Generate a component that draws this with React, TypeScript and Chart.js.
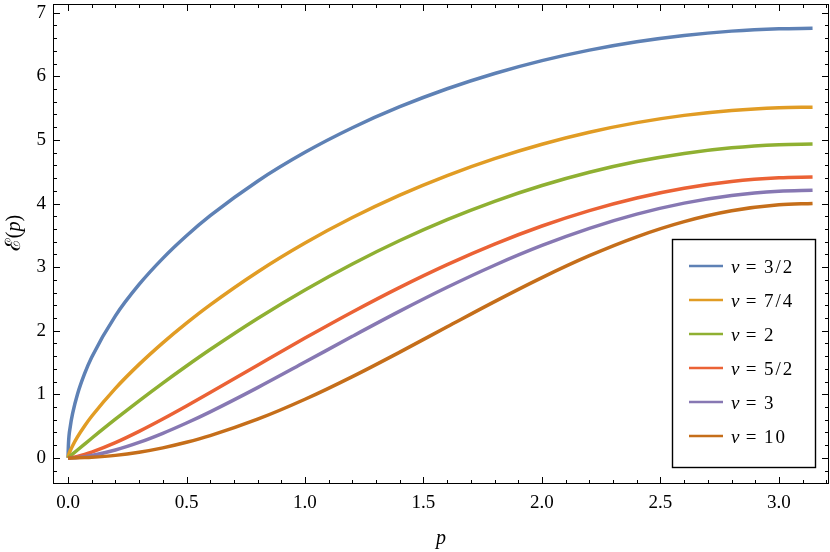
import React, { useEffect, useRef } from "react";
import { Chart, registerables } from "chart.js";

Chart.register(...registerables);

// momentum p
const P = [0, 0.002, 0.01, 0.02, 0.04, 0.07, 0.1, 0.2, 0.3, 0.4, 0.5, 0.6, 0.8, 1.0, 1.2, 1.4, 1.6, 1.8, 2.0, 2.2, 2.4, 2.6, 2.8, 3.0, 3.1416];

// E(p) for each nu
const E_NU_3_2 = [0, 0.2242, 0.5013, 0.7089, 1.0023, 1.3254, 1.5833, 2.2337, 2.7272, 3.1374, 3.4929, 3.8084, 4.3507, 4.8047, 5.1909, 5.5216, 5.8044, 6.0447, 6.2464, 6.4121, 6.5438, 6.643, 6.7105, 6.7474, 6.7551];
const E_NU_7_4 = [0, 0.035, 0.117, 0.1966, 0.3304, 0.5019, 0.6547, 1.0937, 1.471, 1.8097, 2.1198, 2.4069, 2.9245, 3.379, 3.7796, 4.132, 4.4399, 4.7061, 4.9326, 5.1207, 5.2715, 5.3857, 5.4639, 5.5068, 5.5155];
const E_NU_2 = [0, 0.0063, 0.0314, 0.0626, 0.1249, 0.2175, 0.3092, 0.6083, 0.8975, 1.1766, 1.4458, 1.705, 2.1933, 2.6416, 3.0499, 3.4182, 3.7465, 4.0349, 4.2832, 4.4915, 4.6598, 4.7881, 4.8765, 4.9248, 4.9348];
const E_NU_5_2 = [0, 0.0003, 0.0032, 0.0089, 0.0244, 0.0547, 0.0911, 0.2405, 0.4178, 0.6119, 0.8167, 1.0279, 1.4577, 1.884, 2.2949, 2.6823, 3.0397, 3.3624, 3.6465, 3.8891, 4.0878, 4.2408, 4.347, 4.4052, 4.4174];
const E_NU_3 = [0, 0.0, 0.0006, 0.0022, 0.0076, 0.0204, 0.038, 0.1244, 0.2434, 0.3868, 0.5487, 0.7248, 1.1057, 1.507, 1.9119, 2.3074, 2.6827, 3.0293, 3.3401, 3.6093, 3.8324, 4.0057, 4.1266, 4.1933, 4.207];
const E_NU_10 = [0, 0.0, 0.0001, 0.0004, 0.0016, 0.0049, 0.01, 0.04, 0.0897, 0.1585, 0.2457, 0.3506, 0.6086, 0.9222, 1.2787, 1.6639, 2.0623, 2.4581, 2.8355, 3.1796, 3.4766, 3.7148, 3.8849, 3.9801, 4.0];

const SERIES = [E_NU_3_2, E_NU_7_4, E_NU_2, E_NU_5_2, E_NU_3, E_NU_10];
const NU_LABELS = ["3/2", "7/4", "2", "5/2", "3", "10"];
const COLORS = ["#5E81B5", "#E19C24", "#8FB032", "#EB6235", "#8778B3", "#C56E1A"];

// axis ticks
const X_MAJOR = [0, 0.5, 1.0, 1.5, 2.0, 2.5, 3.0];
const X_MINOR = [0.1, 0.2, 0.3, 0.4, 0.6, 0.7, 0.8, 0.9, 1.1, 1.2, 1.3, 1.4, 1.6, 1.7, 1.8, 1.9, 2.1, 2.2, 2.3, 2.4, 2.6, 2.7, 2.8, 2.9, 3.1, 3.2];
const Y_MAJOR = [0, 1, 2, 3, 4, 5, 6, 7];
const Y_MINOR = [-0.2, 0.2, 0.4, 0.6, 0.8, 1.2, 1.4, 1.6, 1.8, 2.2, 2.4, 2.6, 2.8, 3.2, 3.4, 3.6, 3.8, 4.2, 4.4, 4.6, 4.8, 5.2, 5.4, 5.6, 5.8, 6.2, 6.4, 6.6, 6.8];

const X_MIN = -0.0633;
const X_MAX = 3.211;
const Y_MIN = -0.41;
const Y_MAX = 7.137;

const FONT = "'Liberation Serif', 'Times New Roman', 'DejaVu Serif', serif";

const framePlugin = {
  id: "mmaFrame",
  afterDatasetsDraw(chart: any) {
    const { ctx, chartArea: a, scales } = chart;
    const xs = scales.x;
    const ys = scales.y;
    ctx.save();
    ctx.strokeStyle = "#000";
    ctx.lineWidth = 1;
    // frame
    ctx.strokeRect(a.left + 0.5, a.top + 0.5, a.right - a.left - 1, a.bottom - a.top - 1);
    const major = 7;
    const minor = 4;
    ctx.beginPath();
    const xt = (v: number, len: number) => {
      const px = Math.round(xs.getPixelForValue(v)) + 0.5;
      ctx.moveTo(px, a.bottom);
      ctx.lineTo(px, a.bottom - len);
      ctx.moveTo(px, a.top);
      ctx.lineTo(px, a.top + len);
    };
    const yt = (v: number, len: number) => {
      const py = Math.round(ys.getPixelForValue(v)) + 0.5;
      ctx.moveTo(a.left, py);
      ctx.lineTo(a.left + len, py);
      ctx.moveTo(a.right, py);
      ctx.lineTo(a.right - len, py);
    };
    X_MAJOR.forEach((v) => xt(v, major));
    X_MINOR.forEach((v) => xt(v, minor));
    Y_MAJOR.forEach((v) => yt(v, major));
    Y_MINOR.forEach((v) => yt(v, minor));
    ctx.stroke();

    // legend
    const bw = 143;
    const bh = 228;
    const bx = a.right - 14 - bw;
    const by = a.bottom - 17 - bh;
    ctx.fillStyle = "#fff";
    ctx.fillRect(bx, by, bw, bh);
    ctx.lineWidth = 1.4;
    ctx.strokeStyle = "#000";
    ctx.strokeRect(bx + 0.5, by + 0.5, bw, bh);
    chart.data.datasets.forEach((ds: any, i: number) => {
      const cy = by + 27 + 34 * i;
      ctx.beginPath();
      ctx.strokeStyle = ds.borderColor;
      ctx.lineWidth = 2.6;
      ctx.moveTo(bx + 17, cy);
      ctx.lineTo(bx + 51, cy);
      ctx.stroke();
      const base = cy + 6.5;
      ctx.fillStyle = "#000";
      ctx.textBaseline = "alphabetic";
      ctx.textAlign = "left";
      ctx.font = "italic 19px " + FONT;
      ctx.fillText("\u03BD", bx + 59, base);
      ctx.font = "19px " + FONT;
      ctx.textAlign = "center";
      ctx.fillText("=", bx + 79, base);
      ctx.textAlign = "left";
      (ctx as any).letterSpacing = "2px";
      const val = String(ds.label).split(" = ")[1];
      ctx.fillText(val, bx + 92, base);
      (ctx as any).letterSpacing = "0px";
    });
    ctx.restore();
  },
  afterDraw(chart: any) {
    const { ctx, chartArea: a } = chart;
    ctx.save();
    ctx.fillStyle = "#000";
    ctx.textBaseline = "alphabetic";
    // x title
    ctx.textAlign = "center";
    ctx.font = "italic 20px " + FONT;
    ctx.fillText("p", (a.left + a.right) / 2, 544);
    // y title
    ctx.translate(19.5, 233);
    ctx.rotate(-Math.PI / 2);
    const parts: [string, string][] = [
      ["\u2130", "21px 'DejaVu Serif', serif"],
      ["(", "20px " + FONT],
      ["p", "italic 20px " + FONT],
      [")", "20px " + FONT],
    ];
    let total = 0;
    const widths = parts.map(([t, f]) => {
      ctx.font = f;
      const w = ctx.measureText(t).width;
      total += w;
      return w;
    });
    let x = -total / 2;
    ctx.textAlign = "left";
    parts.forEach(([t, f], i) => {
      ctx.font = f;
      ctx.fillText(t, x, 0);
      x += widths[i];
    });
    ctx.restore();
  },
};

export default function App() {
  const ref = useRef<HTMLCanvasElement | null>(null);
  useEffect(() => {
    document.body.style.margin = "0";
    const canvas = ref.current;
    if (!canvas) return;
    const datasets = SERIES.map((ys, i) => ({
      label: "\u03BD = " + NU_LABELS[i],
      data: P.map((x, j) => ({ x, y: ys[j] })),
      borderColor: COLORS[i],
      backgroundColor: COLORS[i],
      borderWidth: 3.5,
      pointRadius: 0,
      fill: false,
      cubicInterpolationMode: "monotone" as const,
      order: SERIES.length - 1 - i,
    }));
    const chart = new Chart(canvas, {
      type: "line",
      data: { datasets },
      options: {
        animation: false,
        responsive: false,
        maintainAspectRatio: false,
        devicePixelRatio: 1,
        layout: { padding: { top: 4, right: 1, left: 0, bottom: 0 } },
        plugins: { legend: { display: false }, tooltip: { enabled: false }, title: { display: false } },
        elements: { point: { radius: 0 }, line: { borderCapStyle: "butt" } },
        scales: {
          x: {
            type: "linear",
            min: X_MIN,
            max: X_MAX,
            afterFit: (s: any) => {
              s.height = 68;
              s.paddingLeft = 0;
              s.paddingRight = 0;
              s.paddingTop = 0;
              s.paddingBottom = 0;
            },
            afterBuildTicks: (s: any) => {
              s.ticks = X_MAJOR.map((v) => ({ value: v }));
            },
            grid: { display: false, drawTicks: false },
            border: { display: false },
            ticks: {
              padding: 8,
              color: "#000",
              font: { family: FONT, size: 19 },
              maxRotation: 0,
              autoSkip: false,
              callback: (v: any) => Number(v).toFixed(1),
            },
          },
          y: {
            type: "linear",
            min: Y_MIN,
            max: Y_MAX,
            afterFit: (s: any) => {
              s.width = 53;
              s.paddingLeft = 0;
              s.paddingRight = 0;
              s.paddingTop = 0;
              s.paddingBottom = 0;
            },
            afterBuildTicks: (s: any) => {
              s.ticks = Y_MAJOR.map((v) => ({ value: v }));
            },
            grid: { display: false, drawTicks: false },
            border: { display: false },
            ticks: {
              padding: 7,
              color: "#000",
              font: { family: FONT, size: 19 },
              autoSkip: false,
              callback: (v: any) => String(Number(v)),
            },
          },
        },
      },
      plugins: [framePlugin],
    });
    return () => chart.destroy();
  }, []);
  return (
    <div style={{ width: 830, height: 552 }}>
      <canvas ref={ref} width={830} height={552} style={{ display: "block" }} />
    </div>
  );
}
